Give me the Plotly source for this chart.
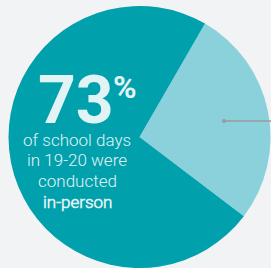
import plotly.graph_objects as go

labels = ["Remote", "In-person"]
values = [27, 73]
colors = ["#8BD1DC", "#00A0AC"]

W, H = 271, 268
BG = "#F2F3F5"

fig = go.Figure(go.Pie(
    labels=labels, values=values, sort=False, direction="clockwise",
    rotation=30, textinfo="none", hoverinfo="label+percent",
    marker=dict(colors=colors, line=dict(width=0)),
    domain=dict(x=[8 / W, 1], y=[0, 1 - 6 / H]),
    showlegend=False,
))

def px(x):
    return x / W

def py(y):
    return 1 - y / H

TXT = "#E2F3F5"
ann = []
ann.append(dict(x=px(76), y=py(100), text="<b>73</b>", showarrow=False,
                font=dict(family="Roboto", size=66, color=TXT), height=56,
                xanchor="center", yanchor="middle", valign="middle"))
ann.append(dict(x=px(125), y=py(87), text="<b>%</b>", showarrow=False,
                font=dict(family="Roboto", size=32, color=TXT),
                xanchor="center", yanchor="middle"))
lines = [("of school days", 140, 300), ("in 19-20 were", 160, 300),
         ("conducted", 181, 300), ("in-person", 202, 600)]
for t, y, w in lines:
    ann.append(dict(x=px(77), y=py(y), text=t, showarrow=False,
                    font=dict(family="Roboto Light, Roboto", size=17, color=TXT, weight=w),
                    xanchor="center", yanchor="middle"))

fig.update_layout(
    width=W, height=H, margin=dict(l=0, r=0, t=0, b=0),
    paper_bgcolor=BG, plot_bgcolor=BG, annotations=ann,
    shapes=[dict(type="line", xref="paper", yref="paper", x0=px(224), x1=1.0,
                 y0=py(121), y1=py(121), line=dict(color="#9A9A9A", width=1.5)),
            dict(type="circle", xref="paper", yref="paper",
                 x0=px(222), x1=px(226), y0=py(119), y1=py(123),
                 fillcolor="#9A9A9A", line=dict(width=0))],
)
fig.write_html("out.html", config={"displayModeBar": False},
               post_script="document.body.style.margin='0';document.body.style.overflow='hidden';")
